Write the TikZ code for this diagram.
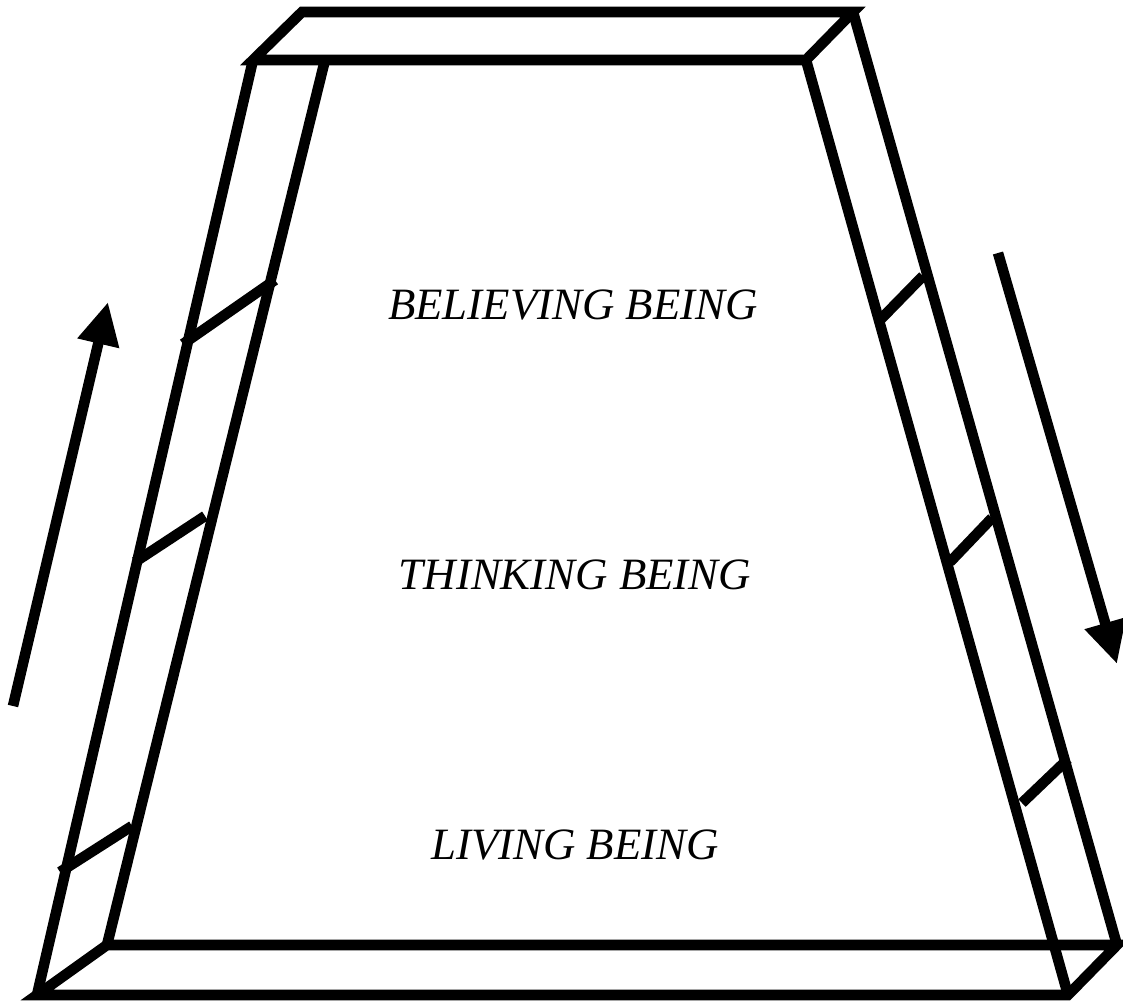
\documentclass[tikz,border=0pt]{standalone}
\usepackage{fontspec}
\setmainfont{Liberation Serif}
\usetikzlibrary{arrows.meta}
\tikzset{
  frame/.style={line width=6pt,line join=miter},
  flow/.style={line width=6pt,-{Triangle[length=0.85cm,width=0.8cm]}},
  stage/.style={font=\fontsize{25.5}{30}\selectfont\itshape}
}
\begin{document}
\begin{tikzpicture}[x=0.02cm,y=-0.02cm]
	\useasboundingbox (0,0) rectangle (1123,1003);
	% corners of the frame
	\coordinate (tbl) at (302,12);
	\coordinate (tbr) at (853,12);
	\coordinate (tfl) at (253,60);
	\coordinate (tfr) at (806,60);
	\coordinate (til) at (325,60);
	\coordinate (bfl) at (37,995);
	\coordinate (bfr) at (1068,995);
	\coordinate (bbr) at (1117,945);
	\coordinate (bbl) at (107,945);
	% top and bottom
	\draw[frame] (tfl) -- (tbl) -- (tbr) -- (tfr) -- cycle;
	\draw[frame] (bfl) -- (bfr) -- (bbr) -- (bbl) -- cycle;
	% sides
	\draw[frame] (tfl) -- (bfl);
	\draw[frame] (til) -- (bbl);
	\draw[frame] (tfr) -- (bfr);
	\draw[frame] (tbr) -- (bbr);
	% rungs
	\draw[frame] (183,344) -- (275,280);
	\draw[frame] (135,562) -- (205,516);
	\draw[frame] (60,872) -- (132,826);
	\draw[frame] (880,320) -- (923,276);
	\draw[frame] (950,562) -- (992,518);
	\draw[frame] (1022,803) -- (1068,759);
	% arrows
	\coordinate (upfrom) at (13,706);
	\coordinate (upto) at (108,302);
	\coordinate (downfrom) at (998,253);
	\coordinate (downto) at (1117,664);
	\draw[flow] (upfrom) -- (upto);
	\draw[flow] (downfrom) -- (downto);
	% labels
	\node[stage] (believing) at (573,305) {BELIEVING BEING};
	\node[stage] (thinking) at (575,575) {THINKING BEING};
	\node[stage] (living) at (575,845) {LIVING BEING};
\end{tikzpicture}
\end{document}
